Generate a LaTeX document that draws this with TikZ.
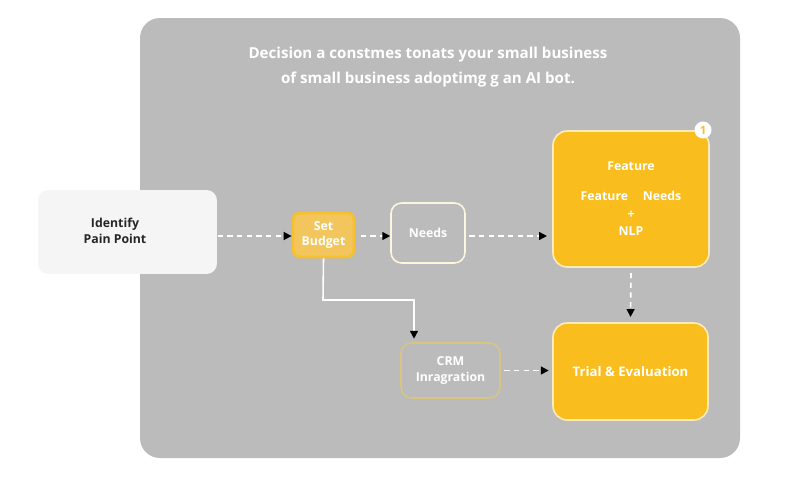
\documentclass[tikz,border=0pt]{standalone}
\usepackage{fontspec}
\setmainfont{Open Sans}
\usetikzlibrary{arrows.meta}
\definecolor{panelgray}{HTML}{BBBBBB}
\definecolor{gold}{HTML}{F9BE1E}
\definecolor{paleGold}{HTML}{F2C65C}
\definecolor{edgeGold}{HTML}{F6C02E}
\definecolor{dimGold}{HTML}{D9C480}
\begin{document}
\begin{tikzpicture}[x=0.02cm, y=-0.02cm, line width=0.9pt,
    stepbox/.style={rounded corners=6pt, font=\fontsize{7}{9}\selectfont\bfseries, text=white, align=center, inner sep=0pt},
    flow/.style={white, dashed, dash pattern=on 3pt off 2.5pt, -{Triangle[black, length=4.5pt, width=4.5pt]}}]

    \useasboundingbox (0,0) rectangle (800,480);
    \fill[white] (0,0) rectangle (800,480);

    % background panel
    \fill[panelgray, rounded corners=0.4cm] (140,18) rectangle (740,458);

    \node[font=\fontsize{8.6}{14}\selectfont\bfseries, text=white, align=center] (title) at (428,67)
      {Decision a constmes tonats your small business\\ of small business adoptimg g an AI bot.};

    % boxes
    \node[stepbox, fill=black!4, text=black!85, minimum width=3.58cm, minimum height=1.68cm] (pain) at (127.5,232) {};
    \node[font=\fontsize{7}{9}\selectfont\bfseries, text=black!85, align=center] (painlabel) at (115,231)
      {Identify\\Pain Point};
    \node[stepbox, fill=paleGold, draw=edgeGold, line width=1.6pt, rounded corners=4pt, minimum width=1.22cm, minimum height=0.88cm] (budget) at (323.5,235)
      {Set\\Budget};
    \node[stepbox, fill=panelgray, draw=white!85!gold, minimum width=1.48cm, minimum height=1.2cm] (needs) at (428,233)
      {Needs};
    \node[stepbox, fill=gold, draw=white!70!gold, rounded corners=8pt, minimum width=3.12cm, minimum height=2.72cm] (feature) at (631,199)
      {Feature\\[8pt] Feature\hspace{1.2em}Needs\\[1pt] +\\[1pt] NLP};
    \node[circle, fill=white, inner sep=0pt, minimum size=0.34cm, text=gold, font=\fontsize{6.5}{7}\selectfont\bfseries] (badge) at (703,130) {1};
    \node[stepbox, fill=panelgray, draw=dimGold, minimum width=1.98cm, minimum height=1.1cm] (crm) at (450.5,370.5)
      {CRM\\Inragration};
    \node[stepbox, fill=gold, draw=white!70!gold, rounded corners=8pt, minimum width=3.1cm, minimum height=1.94cm, font=\fontsize{7.5}{9}\selectfont\bfseries] (trial) at (630.5,371.5)
      {Trial \& Evaluation};

    % connectors
    \draw[flow] (pain.east |- 0,236) -- (budget.west |- 0,236);
    \draw[flow] ([xshift=3pt]budget.east |- 0,236) -- (needs.west |- 0,236);
    \draw[flow] ([xshift=2pt]needs.east |- 0,236) -- ([xshift=-3pt]feature.west |- 0,236);
    \draw[flow] ([yshift=-3pt]feature.south) -- ([yshift=3pt]trial.north);
    \draw[flow] ([xshift=2pt]crm.east) -- ([xshift=-2pt]trial.west |- crm.east);
    \draw[white, -{Triangle[black, length=4.5pt, width=4.5pt]}] (budget.south) -- (323,300) -- (414,300) -- ([yshift=2pt]crm.north -| 414,0);

  \end{tikzpicture}
\end{document}
